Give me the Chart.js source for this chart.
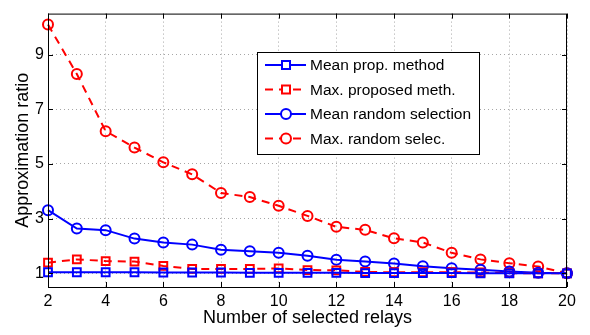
<!DOCTYPE html>
<html>
<head>
<meta charset="utf-8">
<script src="https://cdn.jsdelivr.net/npm/chart.js@4/dist/chart.umd.min.js"></script>
<style>
  html, body { margin:0; padding:0; background:#fff; }
  #grafico { display:block; }
</style>
</head>
<body>
<canvas id="grafico" width="590" height="335"></canvas>
<script>
// ── Datos ──
const relays     = [2,3,4,5,6,7,8,9,10,11,12,13,14,15,16,17,18,19,20];
const meanProp   = [1.04,1.04,1.04,1.04,1.03,1.03,1.03,1.02,1.02,1.02,1.02,1.01,1.01,1.01,1.01,1.0,1.0,1.0,1.0];
const maxProp    = [1.39,1.51,1.45,1.43,1.27,1.16,1.16,1.16,1.18,1.12,1.11,1.05,1.04,1.04,1.04,1.03,1.01,1.0,1.0];
const meanRand   = [3.31,2.64,2.58,2.27,2.13,2.05,1.86,1.81,1.75,1.64,1.5,1.43,1.36,1.26,1.19,1.13,1.07,1.02,1.0];
const maxRand    = [10.1,8.29,6.2,5.6,5.06,4.62,3.94,3.79,3.47,3.1,2.7,2.59,2.28,2.13,1.75,1.51,1.37,1.25,1.0];
const xTicks     = [2,4,6,8,10,12,14,16,18,20];
const yTicks     = [1,3,5,7,9];
const etiquetas  = ['Mean prop. method','Max. proposed meth.','Mean random selection','Max. random selec.'];

const FUENTE = '"Liberation Sans", Arial, Helvetica, sans-serif';
const AZUL = '#0000ff', ROJO = '#ff0000';
const puntos = arr => relays.map((x,i) => ({ x, y: arr[i] }));

const serie = (label, arr, color, estilo, dash) => ({
  label, data: puntos(arr), clip: false,
  borderColor: color, backgroundColor: 'transparent',
  borderWidth: 2, borderDash: dash, tension: 0,
  pointStyle: estilo, pointRadius: estilo === 'rect' ? 5.5 : 5,
  pointBorderColor: color, pointBackgroundColor: 'transparent', pointBorderWidth: 2,
  pointHoverRadius: 5
});

// ── Marco, ticks internos y leyenda ──
const marcoPlugin = {
  id: 'marco',
  afterDraw(chart) {
    const { ctx, chartArea: a, scales } = chart;
    ctx.save();
    ctx.strokeStyle = '#000'; ctx.lineWidth = 1; ctx.setLineDash([]);
    ctx.strokeRect(a.left + .5, a.top + .5, a.right - a.left - 1, a.bottom - a.top);
    ctx.beginPath();
    xTicks.forEach(v => {
      const px = Math.round(scales.x.getPixelForValue(v)) + .5;
      ctx.moveTo(px, a.bottom); ctx.lineTo(px, a.bottom - 5);
      ctx.moveTo(px, a.top);    ctx.lineTo(px, a.top + 5);
    });
    yTicks.forEach(v => {
      const py = Math.round(scales.y.getPixelForValue(v)) + .5;
      ctx.moveTo(a.left, py);  ctx.lineTo(a.left + 5, py);
      ctx.moveTo(a.right, py); ctx.lineTo(a.right - 5, py);
    });
    ctx.stroke();

    // leyenda
    const bx = 257, by = 52, bw = 222, bh = 102;
    ctx.fillStyle = '#fff';
    ctx.fillRect(bx, by, bw, bh);
    ctx.strokeRect(bx + .5, by + .5, bw, bh);
    chart.data.datasets.forEach((d, i) => {
      const y = 65 + i * 24.5;
      ctx.strokeStyle = d.borderColor; ctx.lineWidth = 2;
      ctx.setLineDash(d.borderDash || []);
      ctx.beginPath(); ctx.moveTo(265, y); ctx.lineTo(306, y); ctx.stroke();
      ctx.setLineDash([]);
      ctx.beginPath();
      if (d.pointStyle === 'rect') ctx.rect(282, y - 4, 8, 8);
      else ctx.arc(286, y, 5, 0, Math.PI * 2);
      ctx.fillStyle = '#fff'; ctx.fill(); ctx.stroke();
      ctx.fillStyle = '#000';
      ctx.font = '15.5px ' + FUENTE;
      ctx.textBaseline = 'middle';
      ctx.fillText(d.label, 310, y + 1);
    });
    ctx.restore();
  }
};

new Chart(document.getElementById('grafico'), {
  type: 'line',
  data: {
    datasets: [
      serie(etiquetas[0], meanProp, AZUL, 'rect', []),
      serie(etiquetas[1], maxProp, ROJO, 'rect', [8,6]),
      serie(etiquetas[2], meanRand, AZUL, 'circle', []),
      serie(etiquetas[3], maxRand, ROJO, 'circle', [8,6]),
    ]
  },
  options: {
    responsive: false, animation: false, devicePixelRatio: 1,
    layout: { padding: { top: 5, right: 23, left: 0, bottom: 0 } },
    plugins: { legend: { display: false }, tooltip: { enabled: false } },
    scales: {
      x: {
        type: 'linear', min: 2, max: 20,
        afterBuildTicks: s => { s.ticks = xTicks.map(v => ({ value: v })); },
        afterFit: s => { s.height = 48; },
        ticks: { color: '#000', font: { family: FUENTE, size: 16 }, padding: 5, maxRotation: 0, autoSkip: false },
        grid: { color: 'rgba(0,0,0,0.35)', drawTicks: false, lineWidth: 1 },
        border: { display: false, dash: [1,3] },
        title: { display: true, text: 'Number of selected relays', color: '#000',
                 font: { family: FUENTE, size: 18 }, padding: { top: 0, bottom: 6 } }
      },
      y: {
        type: 'linear', min: 0.5, max: 10.5,
        afterBuildTicks: s => { s.ticks = yTicks.map(v => ({ value: v })); },
        afterFit: s => { s.width = 48; },
        ticks: { color: '#000', font: { family: FUENTE, size: 16 }, padding: 4 },
        grid: { color: 'rgba(0,0,0,0.35)', drawTicks: false, lineWidth: 1 },
        border: { display: false, dash: [1,3] },
        title: { display: true, text: 'Approximation ratio', color: '#000',
                 font: { family: FUENTE, size: 18 }, padding: { top: 12, bottom: 0 } }
      }
    }
  },
  plugins: [marcoPlugin]
});
</script>
</body>
</html>
